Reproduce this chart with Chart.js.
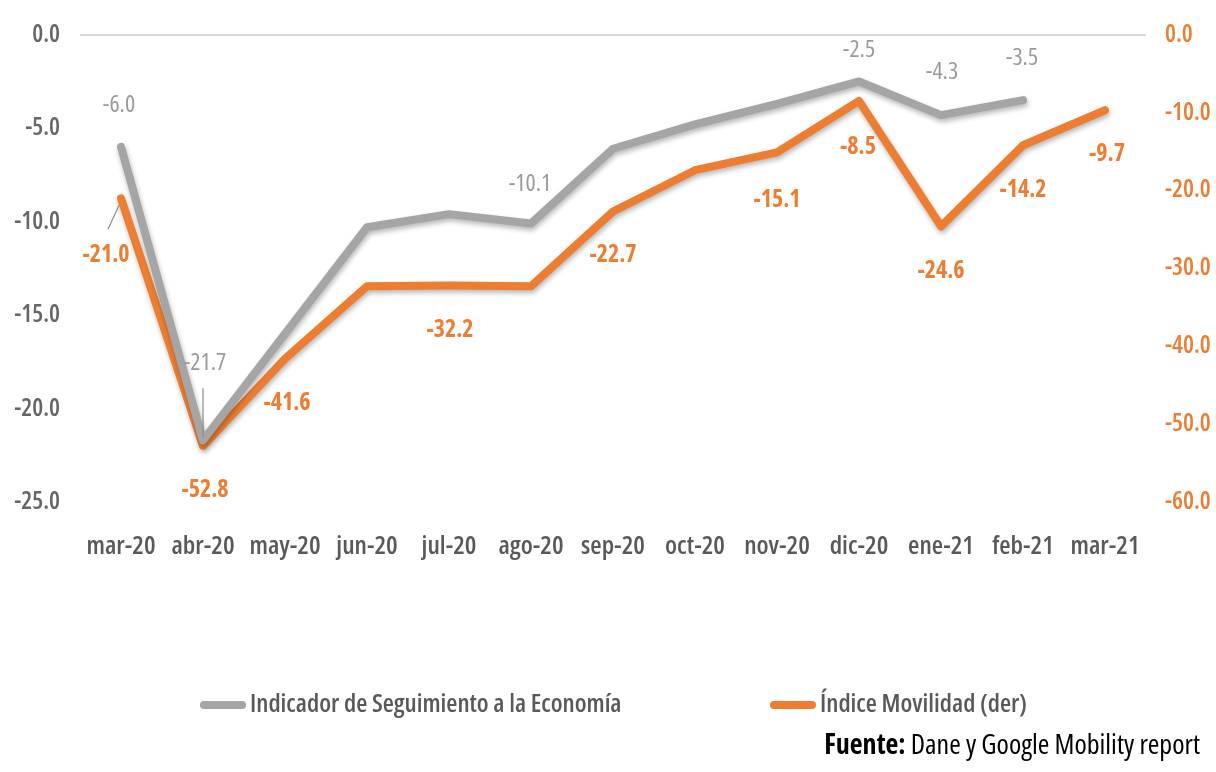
<!DOCTYPE html>
<html>
<head>
<meta charset="utf-8">
<script src="https://cdn.jsdelivr.net/npm/chart.js@4/dist/chart.umd.min.js"></script>
<style>
  html,body{margin:0;padding:0;background:#fff;}
  #wrap{width:1216px;height:772px;position:relative;}
</style>
</head>
<body>
<div id="wrap"><canvas id="c" width="1216" height="772"></canvas></div>
<script>
// ---- DATA ----
const categories = ['mar-20','abr-20','may-20','jun-20','jul-20','ago-20','sep-20','oct-20','nov-20','dic-20','ene-21','feb-21','mar-21'];
const iseValues = [-6.0, -21.7, -16.0, -10.3, -9.6, -10.1, -6.1, -4.8, -3.7, -2.5, -4.3, -3.5, null];
const movilidadValues = [-21.0, -52.8, -41.6, -32.3, -32.2, -32.3, -22.7, -17.4, -15.1, -8.5, -24.6, -14.2, -9.7];
const leftTicks = [0, -5, -10, -15, -20, -25];
const rightTicks = [0, -10, -20, -30, -40, -50, -60];
const seriesNames = ['Indicador de Seguimiento a la Economía', 'Índice Movilidad (der)'];

// ---- STYLE ----
const FONT = '"Open Sans", sans-serif';
const GRAY = '#A5A5A5';
const ORANGE = '#ED7D31';
// label offsets (dx, dy) relative to the point; null = no label
const grayLabelPos = [[-2,-42],[2,-77],null,null,null,[-1,-39],null,null,null,[0,-31],[1,-43],[-1,-42],null];
const orangeLabelPos = [[-15,57],[2,44],[2,44],null,[1,45],null,[0,44],null,[0,48],[-1,46],[0,45],[0,45],[2,44]];

const labelPlugin = {
  id: 'labels',
  afterDatasetsDraw(chart) {
    const ctx = chart.ctx;
    const sets = [
      {ds: 0, pos: grayLabelPos, color: '#9A9A9A', weight: '500'},
      {ds: 1, pos: orangeLabelPos, color: ORANGE, weight: 'bold'}
    ];
    ctx.save();
    sets.forEach(s => {
      const meta = chart.getDatasetMeta(s.ds);
      const vals = chart.data.datasets[s.ds].data;
      meta.data.forEach((pt, i) => {
        const off = s.pos[i];
        if (!off || vals[i] === null) return;
        const x = pt.x + off[0], y = pt.y + off[1];
        ctx.font = s.weight + ' condensed 24px ' + FONT;
        ctx.fillStyle = s.color;
        ctx.textAlign = 'center';
        ctx.textBaseline = 'middle';
        ctx.fillText(vals[i].toFixed(1), x, y);
      });
    });
    // leader lines
    ctx.strokeStyle = '#8C8C8C';
    ctx.lineWidth = 1.2;
    const g = chart.getDatasetMeta(0).data[1];
    ctx.beginPath(); ctx.moveTo(g.x, g.y - 52); ctx.lineTo(g.x, g.y - 3); ctx.stroke();
    const o = chart.getDatasetMeta(1).data[0];
    ctx.beginPath(); ctx.moveTo(o.x - 13, o.y + 31); ctx.lineTo(o.x - 2, o.y + 7); ctx.stroke();
    ctx.restore();
  }
};

const shadowPlugin = {
  id: 'shadow',
  beforeDatasetDraw(chart) {
    const ctx = chart.ctx;
    ctx.save();
    ctx.shadowColor = 'rgba(0,0,0,0.28)';
    ctx.shadowBlur = 5;
    ctx.shadowOffsetX = 1;
    ctx.shadowOffsetY = 3;
  },
  afterDatasetDraw(chart) { chart.ctx.restore(); }
};

const legendPlugin = {
  id: 'customLegend',
  afterDraw(chart) {
    const ctx = chart.ctx;
    const items = [{x: 200}, {x: 770}];
    ctx.save();
    chart.data.datasets.forEach((ds, i) => {
      const x = items[i].x, y = 705;
      ctx.strokeStyle = ds.borderColor;
      ctx.lineWidth = 8;
      ctx.lineCap = 'round';
      ctx.beginPath(); ctx.moveTo(x + 4, y); ctx.lineTo(x + 42, y); ctx.stroke();
      ctx.font = '600 condensed 25.5px ' + FONT;
      ctx.fillStyle = '#595959';
      ctx.textAlign = 'left';
      ctx.textBaseline = 'middle';
      ctx.fillText(ds.label, x + 50, y);
    });
    // source
    ctx.textBaseline = 'middle';
    ctx.fillStyle = '#000';
    ctx.font = 'normal condensed 28px ' + FONT;
    const rest = ' Dane y Google Mobility report';
    const rw = ctx.measureText(rest).width;
    ctx.textAlign = 'right';
    ctx.fillText(rest, 1200, 746);
    ctx.font = 'bold condensed 28px ' + FONT;
    ctx.fillText('Fuente:', 1200 - rw, 746);
    ctx.restore();
  }
};

new Chart(document.getElementById('c'), {
  type: 'line',
  data: {
    labels: categories,
    datasets: [
      {label: seriesNames[0], data: iseValues, yAxisID: 'y', borderColor: GRAY, backgroundColor: GRAY,
       borderWidth: 8, pointRadius: 0, tension: 0, borderJoinStyle: 'round', borderCapStyle: 'round', spanGaps: false},
      {label: seriesNames[1], data: movilidadValues, yAxisID: 'y1', borderColor: ORANGE, backgroundColor: ORANGE,
       borderWidth: 8, pointRadius: 0, tension: 0, borderJoinStyle: 'round', borderCapStyle: 'round'}
    ]
  },
  options: {
    responsive: false,
    animation: false,
    events: [],
    layout: {padding: {top: 32, bottom: 0, left: 0, right: 0}},
    plugins: {legend: {display: false}, tooltip: {enabled: false}},
    scales: {
      x: {
        offset: true,
        grid: {display: false, drawTicks: false},
        border: {display: false},
        ticks: {color: '#595959', font: {family: FONT, size: 26, weight: '600 condensed'}, padding: 29, maxRotation: 0, autoSkip: false},
        afterFit(s) { s.height = 270; }
      },
      y: {
        position: 'left', min: -25, max: 0,
        afterBuildTicks(s) { s.ticks = leftTicks.map(v => ({value: v})); },
        grid: {drawTicks: false, lineWidth: 2, color: ctx => ctx.tick && ctx.tick.value === 0 ? '#D9D9D9' : 'rgba(0,0,0,0)'},
        border: {display: false},
        ticks: {color: '#666666', font: {family: FONT, size: 24.5, weight: '600 condensed'}, padding: 20,
                callback: v => Number(v).toFixed(1)},
        afterFit(s) { s.width = 80; }
      },
      y1: {
        position: 'right', min: -60, max: 0,
        afterBuildTicks(s) { s.ticks = rightTicks.map(v => ({value: v})); },
        grid: {display: false, drawTicks: false},
        border: {display: false},
        ticks: {color: ORANGE, font: {family: FONT, size: 24.5, weight: '600 condensed'}, padding: 19,
                callback: v => Number(v).toFixed(1)},
        afterFit(s) { s.width = 70; }
      }
    }
  },
  plugins: [shadowPlugin, labelPlugin, legendPlugin]
});
</script>
</body>
</html>
